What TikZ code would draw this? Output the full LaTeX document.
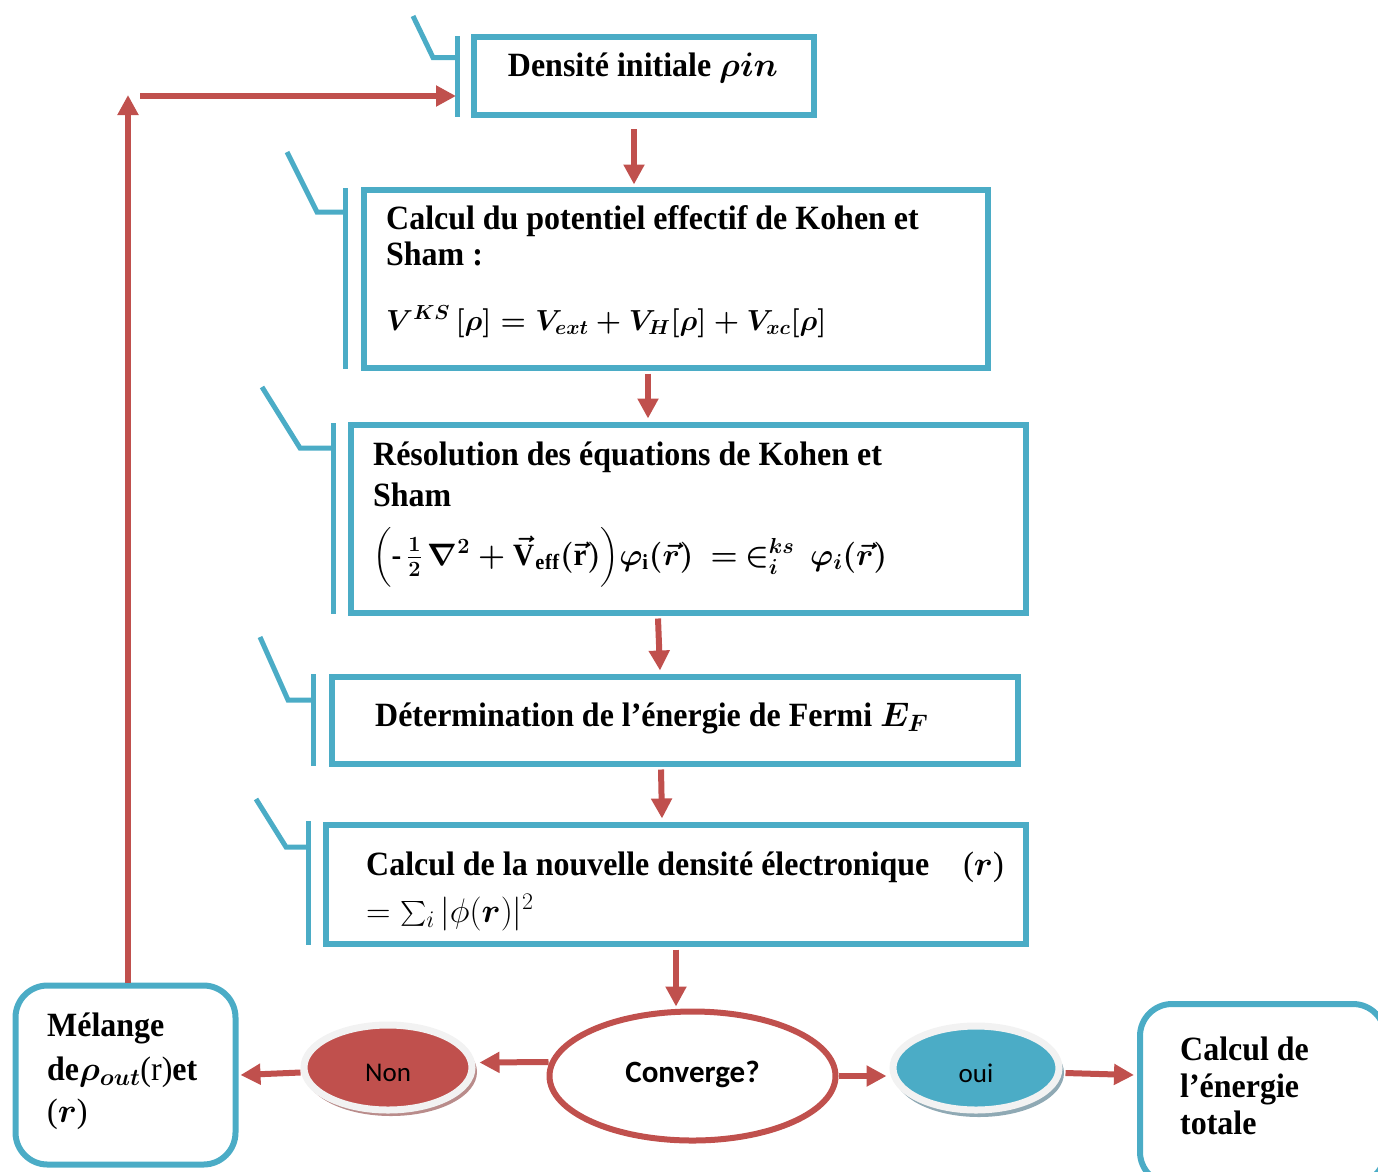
\RequirePackage{fix-cm}
\documentclass[tikz,border=0pt]{standalone}
\usepackage{amsmath}
\usepackage{fontspec}
\setmainfont{Liberation Serif}[FakeStretch=0.94]
\newfontfamily\carlito{Carlito}
\usetikzlibrary{arrows.meta,shapes.geometric,calc}
\definecolor{kblue}{HTML}{4BACC6}
\definecolor{kred}{HTML}{C0504D}
\definecolor{kring}{HTML}{F2F2F2}
\definecolor{nshadow}{HTML}{B98C8B}
\definecolor{oshadow}{HTML}{8FA9B4}
\begin{document}
\begin{tikzpicture}[x=1pt,y=-1pt,
  box/.style={draw=kblue,line width=6pt,rectangle,inner sep=0pt},
  rbox/.style={box,rounded corners=32pt},
  brk/.style={draw=kblue,line width=5pt},
  arr/.style={draw=kred,line width=6pt,-{Triangle[length=20pt,width=20pt]}},
  txt/.style={anchor=base west,inner sep=0pt,font=\fontsize{34}{40}\selectfont\bfseries\boldmath},
  ftxt/.style={txt,font=\fontsize{31}{36}\selectfont\bfseries\boldmath},
  ntxt/.style={anchor=base west,inner sep=0pt,font=\fontsize{34}{40}\selectfont\mdseries\unboldmath},
  oval/.style={ellipse,inner sep=0pt,line width=7pt,draw=kring,text=black,
    font=\carlito\fontsize{27}{30}\selectfont}]
\useasboundingbox (0,0) rectangle (1378,1171);
\clip (0,0) rectangle (1378,1171);

% boxes
\node[box,minimum width=340pt,minimum height=78pt] (b1) at (644,76) {};
\node[box,minimum width=624pt,minimum height=178pt] (b2) at (675.5,278.5) {};
\node[box,minimum width=675pt,minimum height=188pt] (b3) at (688,518.5) {};
\node[box,minimum width=686pt,minimum height=87pt] (b4) at (674.5,720) {};
\node[box,minimum width=700pt,minimum height=119pt] (b5) at (675.5,884) {};
\node[rbox,minimum width=220pt,minimum height=179pt] (mel) at (125.5,1075) {};
\node[rbox,minimum width=245pt,minimum height=180pt] (calc) at (1262.5,1094) {};

% brackets
\draw[brk] (413,16) -- (433,57.5) -- (457,57.5);
\draw[brk] (457,36) -- (457,117);
\draw[brk] (287,152) -- (317,212) -- (345,212);
\draw[brk] (345,188) -- (345,369);
\draw[brk] (262,387) -- (300,448) -- (333,448);
\draw[brk] (333,423) -- (333,614);
\draw[brk] (260,637) -- (288,700) -- (313,700);
\draw[brk] (313,674) -- (313,766);
\draw[brk] (256,799) -- (286,847) -- (308,847);
\draw[brk] (308,821) -- (308,945);

% texts
\node[txt,anchor=base] (t1) at (643,76) {Densité initiale $\rho in$};
\node[txt] (t2a) at (386,229) {Calcul du potentiel effectif de Kohen et};
\node[txt] (t2b) at (386,265) {Sham :};
\node[ftxt,font=\fontsize{29}{34}\selectfont\bfseries\boldmath] (t2c) at (386,330) {$V^{KS}\,[\rho] = V_{ext} + V_{H}[\rho] + V_{xc}[\rho]$};
\node[txt] (t3a) at (373,465) {Résolution des équations de Kohen et};
\node[txt] (t3b) at (373,506) {Sham};
\node[ftxt] (t3c) at (373,565) {$\Bigl(\mbox{-}\,\frac{1}{2}\,\nabla^{2}+\vec{\mathrm{V}}_{\mathrm{eff}}(\vec{\mathrm{r}})\Bigr)\varphi_{\mathrm{i}}(\vec{r})\ =\ \in_{i}^{ks}\,\varphi_{i}(\vec{r})$};
\node[txt] (t4) at (375,726) {Détermination de l’énergie de Fermi $E_{F}$};
\node[txt] (t5a) at (366,875) {Calcul de la nouvelle densité électronique\quad{\mdseries(}$r${\mdseries)}};
\node[ntxt] (t5b) at (366,922) {$=\textstyle\sum_{i}\vert\phi(\boldsymbol{r})\vert^{2}$};
\node[txt] (m1) at (47,1036) {Mélange};
\node[txt] (m2) at (47,1080) {de$\rho_{out}${\mdseries(r)}et};
\node[txt] (m3) at (47,1122) {{\mdseries(}$r${\mdseries)}};
\node[txt] (c1) at (1180,1060) {Calcul de};
\node[txt] (c2) at (1180,1097) {l’énergie};
\node[txt] (c3) at (1180,1134) {totale};

% decision and answers
\node[ellipse,draw=kred,line width=6pt,inner sep=0pt,minimum width=286pt,minimum height=129pt,
  font=\carlito\bfseries\fontsize{31}{34}\selectfont] (conv) at (692.5,1076) {\raisebox{2pt}[\height][\depth]{Converge?}};
\fill[nshadow] (391,1072) ellipse [x radius=86, y radius=44];
\node[oval,fill=kred,minimum width=168pt,minimum height=85pt] (non) at (388,1067.5) {\raisebox{-5pt}[\height][\depth]{Non}};
\fill[oshadow] (979,1073) ellipse [x radius=85, y radius=44];
\node[oval,fill=kblue,minimum width=166pt,minimum height=84pt] (oui) at (976,1068) {\raisebox{-5pt}[\height][\depth]{oui}};

% loop coordinates
\coordinate (up) at (128,95);
\coordinate (hs) at (140,96);
\coordinate (hk) at (456,96);

% connectors
\draw[arr] ($(b1.south)+(-10,11)$) -- ($(b2.north)+(-41.5,-2)$);
\draw[arr] ($(b2.south)+(-27.5,3)$) -- ($(b3.north)+(-40,-3)$);
\draw[arr] ($(b3.south)+(-30,3)$) -- ($(b4.north)+(-14.5,-3)$);
\draw[arr] ($(b4.south)+(-13.5,3)$) -- ($(b5.north)+(-13.5,-3)$);
\draw[arr] ($(b5.south)+(0.5,3)$) -- ($(conv.north)+(-16.5,-2)$);
\draw[arr] ($(conv.west)+(2,-14)$) -- ($(non.east)+(4,-5)$);
\draw[arr] ($(non.west)+(0,5)$) -- ($(mel.east)+(2,0)$);
\draw[arr] (conv.east) -- ($(conv.east -| oui.west)+(-3,0)$);
\draw[arr] ($(oui.east)+(3,5)$) -- ($(calc.west)+(-3,-19)$);
\draw[arr] ($(mel.north)+(2.5,0)$) -- (up);
\draw[arr] (hs) -- (hk);
\end{tikzpicture}
\end{document}
